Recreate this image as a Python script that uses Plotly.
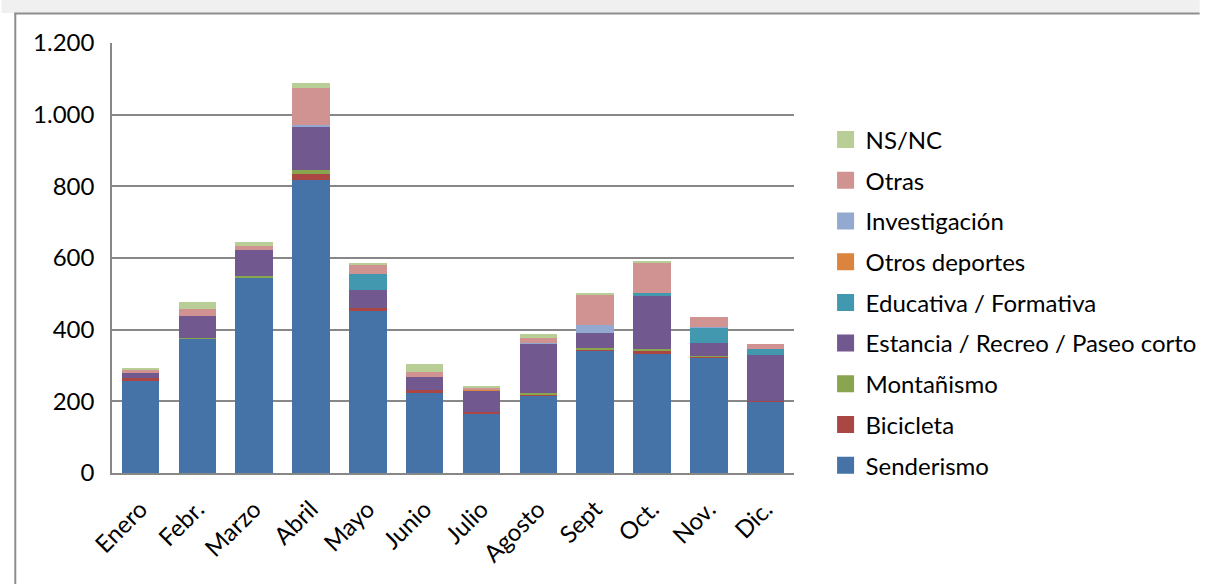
import plotly.graph_objects as go

months = ["Enero", "Febr.", "Marzo", "Abril", "Mayo", "Junio", "Julio",
          "Agosto", "Sept", "Oct.", "Nov.", "Dic."]
senderismo = [258, 375, 545, 819, 451, 226, 165, 217, 341, 331, 321, 200]
bicicleta = [8, 0, 0, 15, 9, 5, 4, 3, 4, 10, 3, 1]
montanismo = [0, 3, 5, 12, 0, 0, 0, 3, 3, 5, 3, 0]
estancia = [14, 59, 71, 122, 52, 36, 62, 138, 44, 147, 36, 127]
educativa = [0, 0, 0, 0, 44, 0, 0, 0, 0, 9, 42, 17]
otros_deportes = [0, 0, 0, 0, 0, 0, 3, 0, 0, 0, 0, 0]
investigacion = [0, 0, 0, 2, 0, 0, 0, 1, 22, 0, 3, 0]
otras = [9, 21, 12, 104, 26, 14, 4, 14, 84, 86, 27, 14]
nsnc = [5, 18, 12, 15, 3, 24, 3, 13, 4, 3, 0, 0]

series = [
    ("Senderismo", senderismo, "#4572A7"),
    ("Bicicleta", bicicleta, "#AA4643"),
    ("Montañismo", montanismo, "#89A54E"),
    ("Estancia / Recreo / Paseo corto", estancia, "#71588F"),
    ("Educativa / Formativa", educativa, "#4198AF"),
    ("Otros deportes", otros_deportes, "#DB843D"),
    ("Investigación", investigacion, "#93A9CF"),
    ("Otras", otras, "#D19392"),
    ("NS/NC", nsnc, "#B9CD96"),
]

FONT = "Lato, Carlito, Calibri, sans-serif"
FS = 24

fig = go.Figure()
n = len(series)
for i, (name, vals, col) in enumerate(series):
    fig.add_trace(go.Bar(
        x=months, y=vals, name=name, legendgroup=name, showlegend=False,
        marker=dict(color=col, line=dict(width=0)),
    ))
    # legend entry only (no data) with a larger square swatch
    fig.add_trace(go.Bar(
        x=[None], y=[None], name=name, legendgroup=name, showlegend=True,
        legendrank=n - i, hoverinfo="skip",
        marker=dict(color=col, line=dict(color=col, width=5)),
    ))

# plot area: x 112..803, y 43..473
L, R, T, B = 112, 411, 43, 111
PW, PH = 1214 - L - R, 584 - T - B


def px_x(px):
    return (px - L) / PW


def px_y(py):
    return (584 - B - py) / PH


fig.update_layout(
    width=1214, height=584,
    margin=dict(l=L, r=R, t=T, b=B, pad=0),
    barmode="stack", bargap=0.34,
    plot_bgcolor="white", paper_bgcolor="white",
    separators=",.",
    font=dict(family=FONT, size=FS, color="black"),
    showlegend=True,
    legend=dict(
        x=px_x(835), xanchor="left", y=px_y(117.5), yanchor="top",
        traceorder="grouped", tracegroupgap=6.5,
        font=dict(family=FONT, size=FS, color="black"),
        bgcolor="rgba(0,0,0,0)",
    ),
    xaxis=dict(
        tickangle=-45, showgrid=False, showline=True, linecolor="#878787",
        linewidth=1.5, ticks="", tickfont=dict(size=FS),
        ticklabelstandoff=11,
    ),
    yaxis=dict(
        range=[0, 1200], dtick=200, showgrid=True, gridcolor="#878787",
        gridwidth=1.5, showline=True, linecolor="#878787", linewidth=1.5,
        zeroline=False, separatethousands=True, ticks="",
        ticklabelstandoff=11, tickfont=dict(size=FS),
    ),
    shapes=[
        dict(type="rect", xref="paper", yref="paper",
             x0=px_x(0), x1=px_x(1214), y0=px_y(0), y1=px_y(13),
             fillcolor="#f0f0f0", line=dict(width=0), layer="above"),
        dict(type="line", xref="paper", yref="paper",
             x0=px_x(13), x1=px_x(1214), y0=px_y(13.5), y1=px_y(13.5),
             line=dict(color="#8e8e8e", width=2), layer="above"),
        dict(type="line", xref="paper", yref="paper",
             x0=px_x(14), x1=px_x(14), y0=px_y(13), y1=px_y(584),
             line=dict(color="#8e8e8e", width=2), layer="above"),
    ],
)

fig.write_html(
    "out.html",
    config={"displayModeBar": False},
    post_script="document.body.style.margin='0';document.body.style.overflow='hidden';",
)
